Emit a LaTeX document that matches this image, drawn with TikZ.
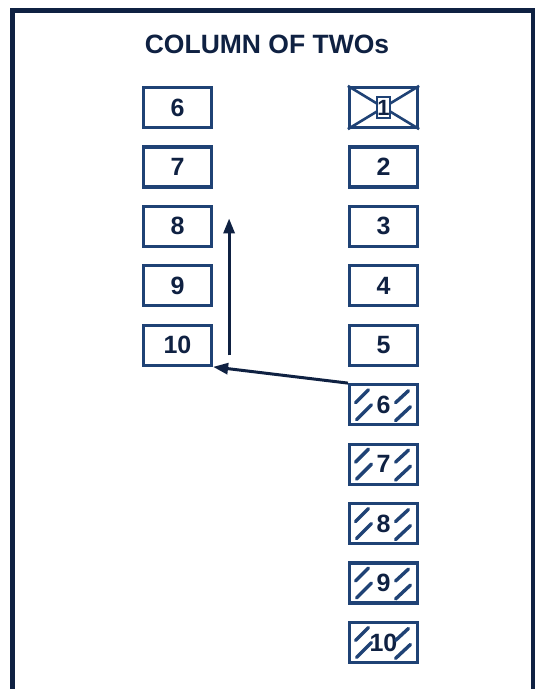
\documentclass[tikz,border=0pt]{standalone}
\usepackage{fontspec}
\setmainfont{Liberation Sans}
\usepackage{xcolor}
\usetikzlibrary{arrows.meta,calc}

\definecolor{navy}{HTML}{1F4275}
\definecolor{ink}{HTML}{0F2142}

\tikzset{
  slot/.style={draw=navy,line width=3.2pt,minimum width=68pt,minimum height=40pt,inner sep=0pt,
    font=\fontsize{25}{25}\selectfont\bfseries,text=ink},
  hatch/.style={navy,line width=3.4pt,line cap=round},
  move/.style={ink,line width=3pt,-{Triangle[length=15pt,width=11pt]}}
}

\begin{document}
\begin{tikzpicture}[x=1pt,y=-1pt]
    \useasboundingbox (0,0) rectangle (535,689);
    \fill[white] (0,0) rectangle (535,689);
    % frame
    \draw[ink,line width=5pt] (12,700) -- (12,10) -- (533,10) -- (533,700);
    \node[font=\fontsize{26.5}{26.5}\selectfont\bfseries,text=ink] (title) at (267,44) {COLUMN OF TWOs};
    % left column
    \foreach \i/\lab in {1/6,2/7,3/8,4/9,5/10}{
      \node[slot] (l\lab) at (177.5,{107.5+(\i-1)*59.44}) {\lab};
    }
    % right column
    \node[slot] (r1) at (383.5,107.5) {};
    \draw[navy,line width=2.6pt] (r1.north west) -- (r1.south east);
    \draw[navy,line width=2.6pt] (r1.north east) -- (r1.south west);
    \node[draw=navy,fill=white,line width=2pt,minimum width=13pt,minimum height=21pt,inner sep=0pt,
      font=\fontsize{22}{22}\selectfont\bfseries,text=ink] (one) at (r1) {1};
    \foreach \i in {2,...,5}{
      \node[slot] (r\i) at (383.5,{107.5+(\i-1)*59.44}) {\i};
    }
    \foreach \i in {6,...,10}{
      \node[slot] (r\i) at (383.5,{107.5+(\i-1)*59.44}) {\i};
      \draw[hatch] ($(r\i)+(-28,-2)$) -- ($(r\i)+(-15,-15)$);
      \draw[hatch] ($(r\i)+(-27,15)$) -- ($(r\i)+(-12,0)$);
      \draw[hatch] ($(r\i)+(12,-2)$) -- ($(r\i)+(25,-14)$);
      \draw[hatch] ($(r\i)+(12,16)$) -- ($(r\i)+(27,2)$);
    }
    % moves
    \draw[move] (r6.north west) -- (l10.south east);
    \coordinate (up0) at ($(l10.east)+(16,10)$);
    \coordinate (up1) at ($(l8.east)+(16,-8)$);
    \draw[move] (up0) -- (up1);
\end{tikzpicture}
\end{document}
